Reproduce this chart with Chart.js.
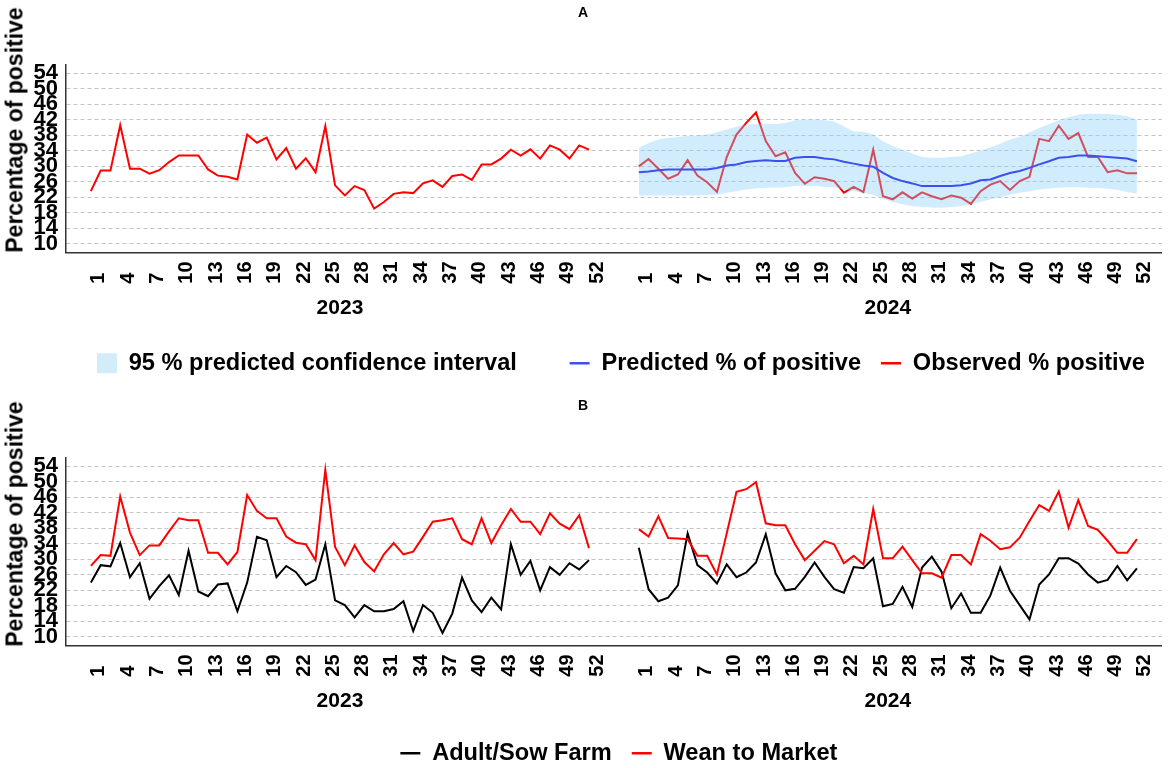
<!DOCTYPE html>
<html>
<head>
<meta charset="utf-8">
<script src="https://cdn.jsdelivr.net/npm/chart.js@4.4.1/dist/chart.umd.min.js"></script>
<style>
html, body { margin: 0; padding: 0; background: #fff; width: 1170px; height: 768px; overflow: hidden; }
.panel { position: absolute; left: 0; width: 1170px; height: 393px; }
.panel canvas { display: block; }
.ytitle { position: absolute; font: bold 23px "Liberation Sans", Arial, sans-serif; color: #000; white-space: nowrap;
          transform: translate(-50%, -50%) rotate(-90deg); }
</style>
</head>
<body>
<div class="panel" style="top:0">
  <canvas id="chartA" width="1170" height="393"></canvas>
  <div class="ytitle" style="left:15px; top:130px">Percentage of positive</div>
</div>
<div class="panel" style="top:393px">
  <canvas id="chartB" width="1170" height="393"></canvas>
  <div class="ytitle" style="left:15px; top:131px">Percentage of positive</div>
</div>
<script>
// axes
var years = ['2023', '2024'];
var weekTicks = [1, 4, 7, 10, 13, 16, 19, 22, 25, 28, 31, 34, 37, 40, 43, 46, 49, 52];
var yTicks = [10, 14, 18, 22, 26, 30, 34, 38, 42, 46, 50, 54];

// panel A : weekly % positive, weeks 1..52
var observed2023 = [23.6, 28.9, 28.9, 40.6, 29.4, 29.4, 28.1, 29.0, 31.1, 32.8,
                    32.8, 32.8, 29.2, 27.6, 27.3, 26.6, 38.2, 36.1, 37.4, 31.8,
                    34.7, 29.4, 32.1, 28.5, 40.4, 25.1, 22.5, 24.9, 23.9, 19.1,
                    20.8, 22.9, 23.3, 23.1, 25.6, 26.4, 24.7, 27.5, 27.9, 26.5,
                    30.5, 30.5, 32.0, 34.3, 32.8, 34.4, 32.0, 35.4, 34.3, 32.0,
                    35.4, 34.3];
var observed2024 = [30.0, 31.9, 29.4, 26.8, 27.9, 31.6, 27.6, 25.9, 23.4, 32.4,
                    38.2, 41.2, 43.9, 36.5, 32.6, 33.6, 28.3, 25.5, 27.2, 26.8,
                    26.2, 23.2, 24.7, 23.4, 34.3, 22.3, 21.5, 23.3, 21.7, 23.3,
                    22.3, 21.5, 22.5, 21.9, 20.3, 23.6, 25.3, 26.2, 23.9, 26.2,
                    27.3, 37.1, 36.5, 40.5, 37.1, 38.6, 32.4, 32.4, 28.5, 29.0,
                    28.2, 28.2];
var predicted2024 = [28.5, 28.7, 29.0, 29.2, 29.2, 29.2, 29.2, 29.2, 29.6, 30.2,
                     30.5, 31.1, 31.4, 31.6, 31.4, 31.4, 32.2, 32.4, 32.4, 32.0,
                     31.8, 31.2, 30.7, 30.2, 29.9, 28.3, 27.0, 26.2, 25.6, 24.9,
                     24.9, 24.9, 24.9, 25.1, 25.6, 26.4, 26.6, 27.5, 28.3, 28.8,
                     29.6, 30.5, 31.3, 32.2, 32.4, 32.8, 32.8, 32.6, 32.4, 32.2,
                     32.0, 31.3];
var lower2024 = [22.5, 22.5, 22.5, 22.5, 22.5, 22.5, 22.5, 22.6, 22.7, 23.2,
                 23.6, 24.0, 24.3, 24.5, 24.5, 24.6, 24.9, 24.9, 24.9, 24.7,
                 24.6, 24.0, 23.6, 23.2, 22.7, 21.6, 20.8, 20.2, 19.7, 19.6,
                 19.4, 19.3, 19.5, 19.7, 20.2, 20.8, 21.5, 22.1, 22.7, 23.2,
                 23.6, 24.0, 24.3, 24.5, 24.6, 24.6, 24.5, 24.4, 24.2, 23.9,
                 23.4, 23.0];
var upper2024 = [34.8, 36.0, 36.9, 37.3, 37.6, 37.8, 37.9, 38.2, 38.8, 39.5,
                 40.2, 40.8, 40.9, 40.9, 40.9, 41.2, 41.9, 42.1, 42.1, 41.9,
                 41.6, 40.3, 39.0, 38.9, 38.2, 36.5, 35.2, 34.3, 33.3, 32.4,
                 32.2, 32.2, 32.4, 32.6, 33.3, 34.1, 34.9, 35.8, 36.9, 37.6,
                 38.8, 39.9, 40.9, 41.9, 42.7, 43.3, 43.6, 43.6, 43.5, 43.3,
                 42.9, 42.1];

// panel B : by farm type
var sow2023 = [24.0, 28.5, 28.2, 34.2, 25.4, 29.0, 19.8, 23.1, 25.9, 20.8,
               32.2, 21.7, 20.5, 23.5, 23.8, 16.6, 24.0, 35.8, 34.9, 25.4,
               28.3, 26.7, 23.4, 24.8, 33.9, 19.4, 18.2, 15.0, 18.2, 16.6,
               16.6, 17.2, 19.2, 11.5, 18.2, 16.2, 11.0, 16.0, 25.3, 19.4,
               16.4, 20.1, 17.1, 33.9, 26.0, 29.6, 22.0, 28.0, 26.0, 29.0,
               27.4, 29.8];
var sow2024 = [33.0, 22.3, 19.2, 20.1, 23.3, 36.7, 28.5, 26.6, 23.8, 28.7,
               25.4, 26.6, 29.2, 36.5, 26.4, 22.0, 22.4, 25.5, 29.2, 25.5,
               22.3, 21.4, 28.0, 27.7, 30.3, 17.9, 18.5, 22.9, 17.7, 27.9,
               30.7, 26.8, 17.4, 21.2, 16.2, 16.2, 20.7, 27.9, 21.9, 18.2,
               14.5, 23.5, 26.1, 30.3, 30.3, 28.9, 26.1, 24.0, 24.7, 28.3,
               24.6, 27.7];
var wean2023 = [28.3, 31.1, 30.9, 46.2, 36.9, 31.1, 33.6, 33.6, 37.2, 40.6,
                40.1, 40.1, 31.7, 31.7, 28.7, 31.9, 46.6, 42.5, 40.6, 40.6,
                35.9, 34.3, 33.9, 29.8, 53.1, 33.2, 28.5, 33.6, 29.3, 26.9,
                31.3, 34.2, 31.3, 32.0, 35.8, 39.7, 40.1, 40.6, 35.2, 33.9,
                40.6, 34.2, 38.8, 43.0, 39.7, 39.7, 36.5, 41.9, 39.2, 37.8,
                41.4, 32.9];
var wean2024 = [37.8, 35.9, 41.1, 35.5, 35.4, 35.2, 30.9, 30.9, 26.1, 36.7,
                47.4, 48.1, 49.9, 39.3, 38.8, 38.8, 33.9, 29.8, 32.2, 34.7,
                33.9, 29.0, 30.9, 28.7, 43.0, 30.3, 30.3, 33.3, 29.8, 26.4,
                26.4, 25.3, 31.1, 31.1, 28.7, 36.5, 34.8, 32.6, 33.1, 35.6,
                39.9, 44.0, 42.5, 47.5, 38.2, 45.3, 38.6, 37.6, 34.8, 31.7,
                31.7, 35.2];

var FONT = '"Liberation Sans", Arial, sans-serif';
var RED = '#ff0000';
var BLUE = '#3a50f0';
var BAND = 'rgba(135, 206, 250, 0.38)';
// 2024 panel sits this many week-units to the right of 2023
var SHIFT = 56.1;

function toPoints(values, yearIdx) {
    return values.map(function (v, i) { return { x: i + 1 + yearIdx * SHIFT, y: v }; });
}

function lineSet(values, yearIdx, color, order) {
    return { data: toPoints(values, yearIdx), borderColor: color, borderWidth: 2,
             pointRadius: 0, fill: false, tension: 0, order: order };
}

// legend is centred a few px right of the plot centre in the original
function legendNudge(dx) {
    return {
        id: 'legendNudge',
        afterLayout: function (chart) {
            chart.legend.left += dx;
            chart.legend.right += dx;
        }
    };
}

function makeScales(yearAxisHeight) {
    return {
        x: {
            type: 'linear', min: -1.55, max: 52 + SHIFT + 2.55, weight: 0,
            grid: { display: false, drawTicks: false },
            border: { display: true, color: '#333', width: 1.5 },
            afterBuildTicks: function (s) {
                s.ticks = [];
                years.forEach(function (y, yi) {
                    weekTicks.forEach(function (w) { s.ticks.push({ value: w + yi * SHIFT }); });
                });
            },
            ticks: {
                autoSkip: false, minRotation: 90, maxRotation: 90, padding: 9, labelOffset: 8,
                color: '#000', font: { family: FONT, size: 20, weight: 'bold' },
                callback: function (v) {
                    var w = Math.round(v > 52.5 ? v - SHIFT : v);
                    // pad one-digit weeks so every label starts at the same line
                    return w < 10 ? w + '  ' : String(w);
                }
            },
            afterFit: function (s) { s.height = 34; }
        },
        year: {
            type: 'linear', position: 'bottom', min: -1.55, max: 52 + SHIFT + 2.55, weight: 1,
            grid: { display: false, drawTicks: false },
            border: { display: false },
            afterBuildTicks: function (s) {
                s.ticks = years.map(function (y, yi) { return { value: 26.5 + yi * SHIFT }; });
            },
            ticks: {
                autoSkip: false, maxRotation: 0, padding: 9,
                color: '#000', font: { family: FONT, size: 21, weight: 'bold' },
                callback: function (v, i) { return years[i]; }
            },
            afterFit: function (s) { s.height = yearAxisHeight; }
        },
        y: {
            min: 7.8, max: 56.2,
            afterBuildTicks: function (s) { s.ticks = yTicks.map(function (v) { return { value: v }; }); },
            grid: { color: '#c4c4c4', lineWidth: 1, drawTicks: false },
            border: { display: true, color: '#333', width: 1.5, dash: [4, 3] },
            ticks: { autoSkip: false, padding: 8, color: '#000', font: { family: FONT, size: 22, weight: 'bold' } },
            afterFit: function (s) { s.width = 66; }
        }
    };
}

function makeOptions(title, legendItems, yearAxisHeight, bottomPad) {
    return {
        responsive: false,
        animation: false,
        events: [],
        layout: { padding: { left: 0, right: 4, top: 0, bottom: bottomPad } },
        scales: makeScales(yearAxisHeight),
        plugins: {
            filler: { drawTime: 'beforeDatasetDraw' },
            tooltip: { enabled: false },
            title: {
                display: true, text: title, color: '#000',
                font: { family: FONT, size: 14, weight: 'bold' },
                padding: { top: 5, bottom: 43 }
            },
            legend: {
                position: 'bottom', fullSize: false,
                labels: {
                    usePointStyle: true, pointStyleWidth: 20, boxHeight: 20, padding: 20,
                    color: '#000', font: { family: FONT, size: 23.6, weight: 'bold' },
                    generateLabels: function () { return legendItems; }
                }
            }
        }
    };
}

// グラフA
var ctxA = document.getElementById('chartA');
new Chart(ctxA, {
    type: 'line',
    data: {
        datasets: [
            lineSet(observed2023, 0, RED, 3),
            lineSet(observed2024, 1, RED, 3),
            { data: toPoints(lower2024, 1), borderColor: 'transparent', borderWidth: 0, pointRadius: 0, fill: false, order: 2 },
            { data: toPoints(upper2024, 1), borderColor: 'transparent', borderWidth: 0, pointRadius: 0,
              fill: '-1', backgroundColor: BAND, order: 2 },
            lineSet(predicted2024, 1, BLUE, 1)
        ]
    },
    options: makeOptions('A', [
        { text: '95 % predicted confidence interval     ', pointStyle: 'rect', fillStyle: '#d3ecf9',
          strokeStyle: '#d3ecf9', lineWidth: 0, hidden: false, fontColor: '#000' },
        { text: 'Predicted % of positive', pointStyle: 'line', fillStyle: BLUE,
          strokeStyle: BLUE, lineWidth: 2.5, hidden: false, fontColor: '#000' },
        { text: 'Observed % positive', pointStyle: 'line', fillStyle: RED,
          strokeStyle: RED, lineWidth: 2.5, hidden: false, fontColor: '#000' }
    ], 45, 8),
    plugins: [legendNudge(7)]
});

// グラフB
var ctxB = document.getElementById('chartB');
new Chart(ctxB, {
    type: 'line',
    data: {
        datasets: [
            lineSet(sow2023, 0, '#000000', 2),
            lineSet(sow2024, 1, '#000000', 2),
            lineSet(wean2023, 0, RED, 1),
            lineSet(wean2024, 1, RED, 1)
        ]
    },
    options: makeOptions('B', [
        { text: 'Adult/Sow Farm', pointStyle: 'line', fillStyle: '#000',
          strokeStyle: '#000', lineWidth: 2.5, hidden: false, fontColor: '#000' },
        { text: 'Wean to Market', pointStyle: 'line', fillStyle: RED,
          strokeStyle: RED, lineWidth: 2.5, hidden: false, fontColor: '#000' }
    ], 42, 11),
    plugins: [legendNudge(5)]
});
</script>
</body>
</html>
